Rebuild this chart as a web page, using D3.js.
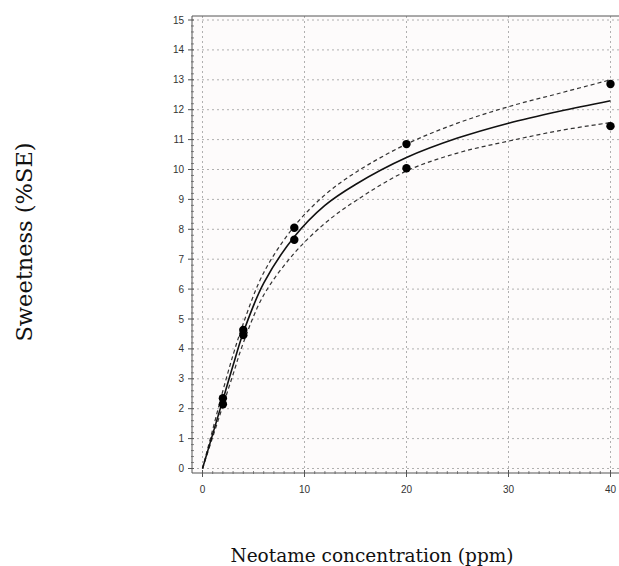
<!DOCTYPE html>
<html>
<head>
<meta charset="utf-8">
<script src="https://cdn.jsdelivr.net/npm/d3@7"></script>
<style>
    body { margin: 0; background: #fff; }
    .tick-label { font-family: 'Liberation Sans', Arial, sans-serif; font-size: 10px; fill: #333; }
    .axis-title { font-family: 'DejaVu Serif', serif; fill: #111; }
</style>
</head>
<body>
<svg class="chart" width="619" height="566"></svg>
<script>
// measured points (two replicates per concentration)
var concentration = [2, 4, 9, 20, 40];
var sweetnessHigh = [2.35, 4.63, 8.05, 10.85, 12.86];
var sweetnessLow = [2.15, 4.46, 7.65, 10.04, 11.45];

// fitted curve and band
var fitX = [0, 1, 2, 3, 4, 6, 9, 12, 15, 20, 25, 30, 35, 40];
var fitMid = [0, 1.15, 2.3, 3.45, 4.55, 6.2, 7.75, 8.8, 9.5, 10.4, 11.05, 11.55, 11.95, 12.3];
var fitUpper = [0, 1.3, 2.6, 3.8, 4.85, 6.55, 8.1, 9.15, 9.9, 10.85, 11.55, 12.1, 12.55, 13.0];
var fitLower = [0, 1.05, 2.1, 3.15, 4.2, 5.8, 7.2, 8.2, 8.95, 9.95, 10.55, 10.95, 11.3, 11.57];

var xTicks = [0, 10, 20, 30, 40];
var yTicks = d3.range(0, 16);

(function() {

    var p = {};
        p.axisLeft = 192;
        p.axisBottom = 473;
        p.top = 16;
        p.right = 619;
        p.grid = { color: '#b0b0b0', dash: '2,3' };
        p.axisColor = '#555';

    var svg = d3.select('.chart');

    var x = d3.scaleLinear()
        .domain([0, 40])
        .range([202.5, 610.5])
    ;
    var y = d3.scaleLinear()
        .domain([0, 15])
        .range([468.5, 20])
    ;

    //-----  Plot background  -----//
    svg.append('rect')
        .attr('x', p.axisLeft)
        .attr('y', p.top)
        .attr('width', p.right - p.axisLeft)
        .attr('height', p.axisBottom - p.top)
        .attr('fill', '#fdfbfb')
    ;

    //-----  Grid  -----//
    svg.append('g').selectAll('line')
        .data(yTicks)
        .enter().append('line')
            .attr('x1', p.axisLeft)
            .attr('x2', p.right)
            .attr('y1', function(d) { return y(d); })
            .attr('y2', function(d) { return y(d); })
            .attr('stroke', p.grid.color)
            .attr('stroke-dasharray', p.grid.dash)
    ;
    svg.append('g').selectAll('line')
        .data(xTicks)
        .enter().append('line')
            .attr('x1', function(d) { return x(d); })
            .attr('x2', function(d) { return x(d); })
            .attr('y1', p.top)
            .attr('y2', p.axisBottom)
            .attr('stroke', p.grid.color)
            .attr('stroke-dasharray', p.grid.dash)
    ;

    //-----  Axes  -----//
    var ax = svg.append('g')
        .attr('stroke', p.axisColor)
        .attr('stroke-width', 1)
    ;
    ax.append('line')
        .attr('x1', p.axisLeft).attr('x2', p.axisLeft)
        .attr('y1', p.top).attr('y2', p.axisBottom)
    ;
    ax.append('line')
        .attr('x1', p.axisLeft).attr('x2', p.right)
        .attr('y1', p.axisBottom).attr('y2', p.axisBottom)
    ;
    ax.append('line')
        .attr('x1', p.axisLeft).attr('x2', p.right)
        .attr('y1', p.top).attr('y2', p.top)
    ;
    // y ticks, major + minor
    ax.selectAll('.ymaj')
        .data(yTicks)
        .enter().append('line')
            .attr('x1', p.axisLeft - 4).attr('x2', p.axisLeft + 2)
            .attr('y1', function(d) { return y(d); })
            .attr('y2', function(d) { return y(d); })
    ;
    ax.selectAll('.ymin')
        .data(d3.range(0, 15.01, 0.2).filter(function(d) { return Math.abs(d - Math.round(d)) > 0.01; }))
        .enter().append('line')
            .attr('x1', p.axisLeft - 1).attr('x2', p.axisLeft + 2)
            .attr('y1', function(d) { return y(d); })
            .attr('y2', function(d) { return y(d); })
            .attr('stroke-width', 0.7)
    ;
    // x ticks, major + minor
    ax.selectAll('.xmaj')
        .data(xTicks)
        .enter().append('line')
            .attr('x1', function(d) { return x(d); })
            .attr('x2', function(d) { return x(d); })
            .attr('y1', p.axisBottom - 3).attr('y2', p.axisBottom + 4)
    ;
    ax.selectAll('.xmin')
        .data(d3.range(1, 41).filter(function(d) { return d % 10 !== 0; }))
        .enter().append('line')
            .attr('x1', function(d) { return x(d); })
            .attr('x2', function(d) { return x(d); })
            .attr('y1', p.axisBottom - 2).attr('y2', p.axisBottom + 1)
            .attr('stroke-width', 0.7)
    ;

    //-----  Tick labels  -----//
    svg.append('g').selectAll('text')
        .data(yTicks)
        .enter().append('text')
            .attr('class', 'tick-label')
            .attr('x', p.axisLeft - 8)
            .attr('y', function(d) { return y(d) + 3.5; })
            .attr('text-anchor', 'end')
            .text(function(d) { return d; })
    ;
    svg.append('g').selectAll('text')
        .data(xTicks)
        .enter().append('text')
            .attr('class', 'tick-label')
            .attr('x', function(d) { return x(d); })
            .attr('y', 493)
            .attr('text-anchor', 'middle')
            .text(function(d) { return d; })
    ;

    //-----  Fit and band  -----//
    var fit = fitX.map(function(c, i) {
        return { c: c, mid: fitMid[i], up: fitUpper[i], lo: fitLower[i] };
    });
    var lineOf = function(key) {
        return d3.line()
            .curve(d3.curveCatmullRom.alpha(0.5))
            .x(function(d) { return x(d.c); })
            .y(function(d) { return y(d[key]); });
    };
    svg.append('path')
        .datum(fit)
        .attr('d', lineOf('up'))
        .attr('fill', 'none')
        .attr('stroke', '#333')
        .attr('stroke-width', 1.2)
        .attr('stroke-dasharray', '4,3')
    ;
    svg.append('path')
        .datum(fit)
        .attr('d', lineOf('lo'))
        .attr('fill', 'none')
        .attr('stroke', '#333')
        .attr('stroke-width', 1.2)
        .attr('stroke-dasharray', '4,3')
    ;
    svg.append('path')
        .datum(fit)
        .attr('d', lineOf('mid'))
        .attr('fill', 'none')
        .attr('stroke', '#111')
        .attr('stroke-width', 1.6)
    ;

    //-----  Points  -----//
    var pts = [];
    for (var n = 0; n < concentration.length; n++) {
        pts.push({ c: concentration[n], s: sweetnessHigh[n] });
        pts.push({ c: concentration[n], s: sweetnessLow[n] });
    }
    svg.append('g').selectAll('circle')
        .data(pts)
        .enter().append('circle')
            .attr('cx', function(d) { return x(d.c); })
            .attr('cy', function(d) { return y(d.s); })
            .attr('r', 4.2)
            .attr('fill', '#000')
    ;

    //-----  Axis titles  -----//
    svg.append('text')
        .attr('class', 'axis-title')
        .attr('x', 372)
        .attr('y', 562)
        .attr('text-anchor', 'middle')
        .attr('font-size', 18.5)
        .text('Neotame concentration (ppm)')
    ;
    svg.append('text')
        .attr('class', 'axis-title')
        .attr('transform', 'translate(32,242) rotate(-90)')
        .attr('text-anchor', 'middle')
        .attr('font-size', 22.5)
        .text('Sweetness (%SE)')
    ;
})();
</script>
</body>
</html>
